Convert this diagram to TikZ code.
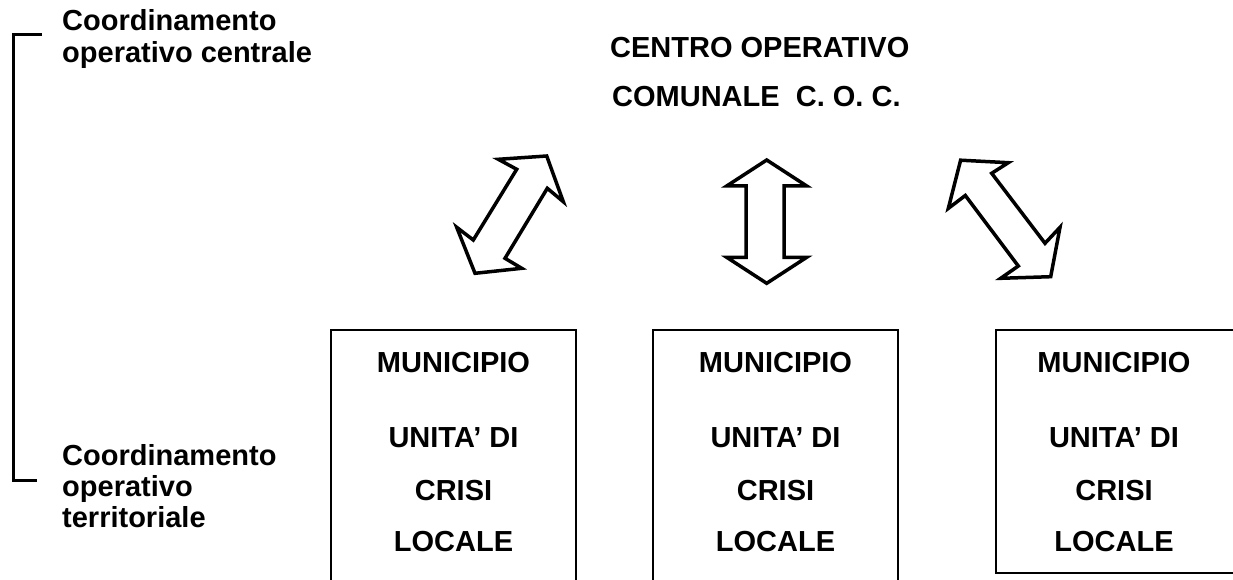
\documentclass[tikz,border=0pt]{standalone}
\usepackage{fontspec}
\setmainfont{Liberation Sans}
\begin{document}
\begin{tikzpicture}[x=1pt,y=-1pt,
  txt/.style={font=\fontsize{29}{35}\selectfont\bfseries, inner sep=0pt},
  lbl/.style={txt, anchor=base west},
  ctr/.style={txt, anchor=base},
  box/.style={draw, line width=2.5pt, inner sep=0pt},
  arr/.style={draw, line width=3.5pt, line join=miter, miter limit=4, fill=white},
  brk/.style={draw, line width=3pt}]
\useasboundingbox (0,0) rectangle (1233,580);
\clip (0,0) rectangle (1233,580);
\fill[white] (0,0) rectangle (1233,580);

% bracket
\draw[brk] (42,35) -- (13,35) -- (13,480) -- (37,480);

% labels
\node[lbl] (c1) at (62,31) {Coordinamento};
\node[lbl] (c2) at (62,63) {operativo centrale};
\node[lbl] (t1) at (62,465) {Coordinamento};
\node[lbl] (t2) at (62,496) {operativo};
\node[lbl] (t3) at (62,527) {territoriale};

% title
\node[lbl] (coc1) at (610,58) {CENTRO OPERATIVO};
\node[lbl] (coc2) at (612,107) {COMUNALE\ \ C. O. C.};

% boxes
\draw[box] (331,620) -- (331,330) -- (576,330) -- (576,620);
\draw[box] (653,620) -- (653,330) -- (898,330) -- (898,620);
\draw[box] (1245,330) -- (996,330) -- (996,573) -- (1245,573);

\foreach \n/\cx in {a/453.5, b/775.5, c/1114} {
  \node[ctr] (\n m) at (\cx,372) {MUNICIPIO};
  \node[ctr] (\n u) at (\cx,447) {UNITA’ DI};
  \node[ctr] (\n c) at (\cx,500) {CRISI};
  \node[ctr] (\n l) at (\cx,551) {LOCALE};
}

% double arrows
\draw[arr] (498.3,159.3) -- (546.7,156) -- (563.3,201.7) -- (547.3,188.3)
  -- (505,258.3) -- (521.7,268.3) -- (475,273.3) -- (456.7,227.3)
  -- (473.3,240) -- (516.7,169.3) -- cycle;
\draw[arr] (766.7,160) -- (806.7,186) -- (784,186) -- (784,257.3)
  -- (806.7,257.3) -- (766.7,283.3) -- (726.7,257.3) -- (746,257.3)
  -- (746,186) -- (726.7,186) -- cycle;
\draw[arr] (960.6,160.2) -- (1008.3,162.7) -- (991.7,173.3) -- (1045,243.3)
  -- (1060,227.3) -- (1050.7,276.7) -- (1000.7,278.3) -- (1018.3,266)
  -- (965.3,195.5) -- (948.3,208.4) -- cycle;
\end{tikzpicture}
\end{document}
